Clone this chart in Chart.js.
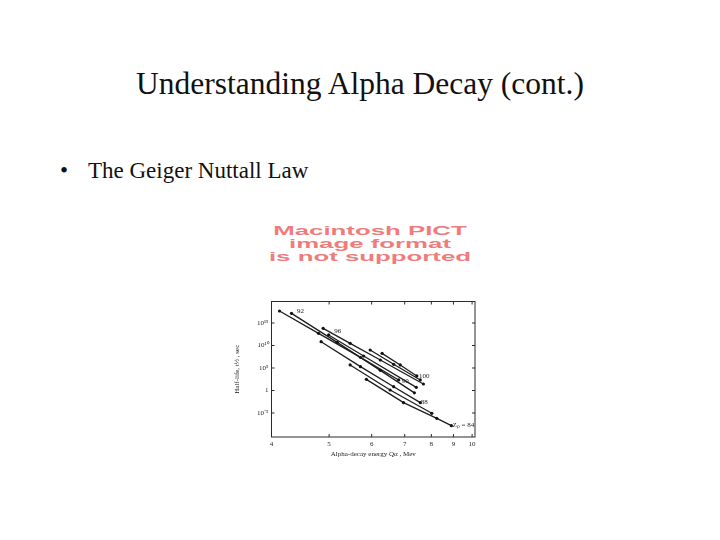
<!DOCTYPE html>
<html>
<head>
<meta charset="utf-8">
<script src="https://cdn.jsdelivr.net/npm/chart.js@4.4.0/dist/chart.umd.min.js"></script>
<style>
    html, body { margin: 0; padding: 0; background: #fff; }
    body { width: 720px; height: 540px; position: relative; overflow: hidden; font-family: "Liberation Serif", serif; color: #111; }
    #title { position: absolute; left: 0; top: 66px; width: 720px; text-align: center; font-size: 31.5px; }
    #bullet { position: absolute; left: 60px; top: 158px; font-size: 23px; }
    #bullet span { display: inline-block; width: 28px; }
    .pict { position: absolute; left: 270px; width: 200px; text-align: center; font-family: "Liberation Sans", Arial, sans-serif;
            font-weight: bold; font-size: 12px; line-height: 12px; color: #ef7c7c; transform: scaleX(2.15); transform-origin: center; }
    #box { position: absolute; left: 228px; top: 285px; width: 262px; height: 185px; }
</style>
</head>
<body>
<div id="title">Understanding Alpha Decay (cont.)</div>
<div id="bullet"><span>•</span>The Geiger Nuttall Law</div>
<div class="pict" style="top:225px">Macintosh PICT</div>
<div class="pict" style="top:238px">image format</div>
<div class="pict" style="top:251px">is not supported</div>
<div id="box"><canvas id="gn"></canvas></div>

<script>
// Alpha-decay energy (MeV) aur half-life (sec), har Z ki line ke liye
const z100E = [6.29, 6.85, 7.43];
const z100T = [1.8e8, 4.7e5, 1.7e3];
const z98E = [5.96, 6.64, 7.56];
const z98T = [1e9, 6.6e5, 2.2e2];
const z96E = [4.88, 5.46, 6.24, 7.68];
const z96T = [6.6e13, 3e10, 6e6, 28];
const z94E = [4.99, 5.79, 7.41];
const z94T = [2.2e12, 4.6e7, 5];
const z92E = [4.31, 5.17, 6.24, 7.34];
const z92T = [1.4e17, 5e10, 3e4, 0.3];
const z90E = [4.12, 4.79, 5.71, 6.80];
const z90T = [4.7e17, 5e12, 2.3e7, 2.2e2];
const z88E = [4.84, 5.71, 6.64, 7.56];
const z88T = [7e10, 2e5, 7, 2e-3];
const z86E = [5.46, 6.53, 8.02];
const z86T = [4.7e5, 1.3, 8.5e-6];
const z84E = [5.86, 6.96, 8.23, 8.90];
const z84T = [3e2, 2e-3, 6.6e-7, 1.5e-8];

// Line labels on the plot
const labelText = ['92', '96', '100', '90', '88', 'Zₚ = 84'];
const labelE = [4.46, 5.18, 7.71, 7.02, 7.71, 9.51];
const labelT = [4.7e17, 1.2e13, 1.7e3, 1.5e2, 2.4e-3, 2.1e-8];

// Axis ticks
const xTickE = [4, 5, 6, 7, 8, 9, 10];
const yTickVals = [1e-5, 1, 1e5, 1e10, 1e15];
const yTickText = ['10⁻⁵', '1', '10⁵', '10¹⁰', '10¹⁵'];

const seriesE = [z100E, z98E, z96E, z94E, z92E, z90E, z88E, z86E, z84E];
const seriesT = [z100T, z98T, z96T, z94T, z92T, z90T, z88T, z86T, z84T];

// x axis is 1/sqrt(E) (Geiger-Nuttall), reversed so energy increases to the right
const inv = e => 1 / Math.sqrt(e);

const datasets = seriesE.map((es, i) => ({
    data: es.map((e, j) => ({ x: inv(e), y: seriesT[i][j] })),
    showLine: true,
    borderColor: '#1e1e1e',
    borderWidth: 1.3,
    pointRadius: 1.6,
    pointBackgroundColor: '#111',
    pointBorderWidth: 0
}));

const inkColor = '#2b2b2b';
const tinyFont = { family: 'Liberation Serif', size: 7 };

// frame, inward ticks and line labels
const framePlugin = {
    id: 'frame',
    afterDraw(chart) {
        const { ctx, chartArea: a, scales } = chart;
        ctx.save();
        ctx.strokeStyle = inkColor;
        ctx.lineWidth = 1;
        ctx.strokeRect(a.left, a.top, a.right - a.left, a.bottom - a.top);
        ctx.beginPath();
        xTickE.forEach(e => {
            const px = scales.x.getPixelForValue(inv(e));
            ctx.moveTo(px, a.bottom); ctx.lineTo(px, a.bottom - 3);
            ctx.moveTo(px, a.top); ctx.lineTo(px, a.top + 3);
        });
        yTickVals.forEach(v => {
            const py = scales.y.getPixelForValue(v);
            ctx.moveTo(a.left, py); ctx.lineTo(a.left + 3, py);
            ctx.moveTo(a.right, py); ctx.lineTo(a.right - 3, py);
        });
        ctx.stroke();
        ctx.fillStyle = '#222';
        ctx.font = '7px "Liberation Serif"';
        ctx.textAlign = 'center';
        ctx.textBaseline = 'middle';
        labelText.forEach((t, i) => {
            ctx.fillText(t, scales.x.getPixelForValue(inv(labelE[i])), scales.y.getPixelForValue(labelT[i]));
        });
        ctx.restore();
    }
};

new Chart(document.getElementById('gn'), {
    type: 'scatter',
    data: { datasets },
    options: {
        responsive: true,
        maintainAspectRatio: false,
        animation: false,
        layout: { padding: { top: 16.5, right: 15, left: 0, bottom: 12 } },
        plugins: { legend: { display: false }, tooltip: { enabled: false } },
        scales: {
            x: {
                type: 'linear',
                reverse: true,
                min: inv(10.17),
                max: inv(4),
                grid: { display: false, drawTicks: false },
                border: { display: false },
                afterBuildTicks: s => { s.ticks = xTickE.map(e => ({ value: inv(e) })); },
                afterFit: s => { s.height = 21; },
                ticks: {
                    font: tinyFont, color: '#222', padding: 3, maxRotation: 0, autoSkip: false,
                    callback: v => String(Math.round(1 / (v * v)))
                },
                title: { display: true, text: 'Alpha-decay energy Qα , Mev', font: tinyFont, color: '#222', padding: { top: 2, bottom: 0 } }
            },
            y: {
                type: 'logarithmic',
                min: 4.6e-11,
                max: 6e19,
                grid: { display: false, drawTicks: false },
                border: { display: false },
                afterBuildTicks: s => { s.ticks = yTickVals.map(v => ({ value: v })); },
                afterFit: s => { s.width = 43.5; },
                ticks: {
                    font: tinyFont, color: '#222', padding: 3, autoSkip: false,
                    callback: v => yTickText[yTickVals.indexOf(v)]
                },
                title: { display: true, text: 'Half-life, t½ , sec', font: tinyFont, color: '#222', padding: { top: 5, bottom: 0 } }
            }
        }
    },
    plugins: [framePlugin]
});
</script>
</body>
</html>
